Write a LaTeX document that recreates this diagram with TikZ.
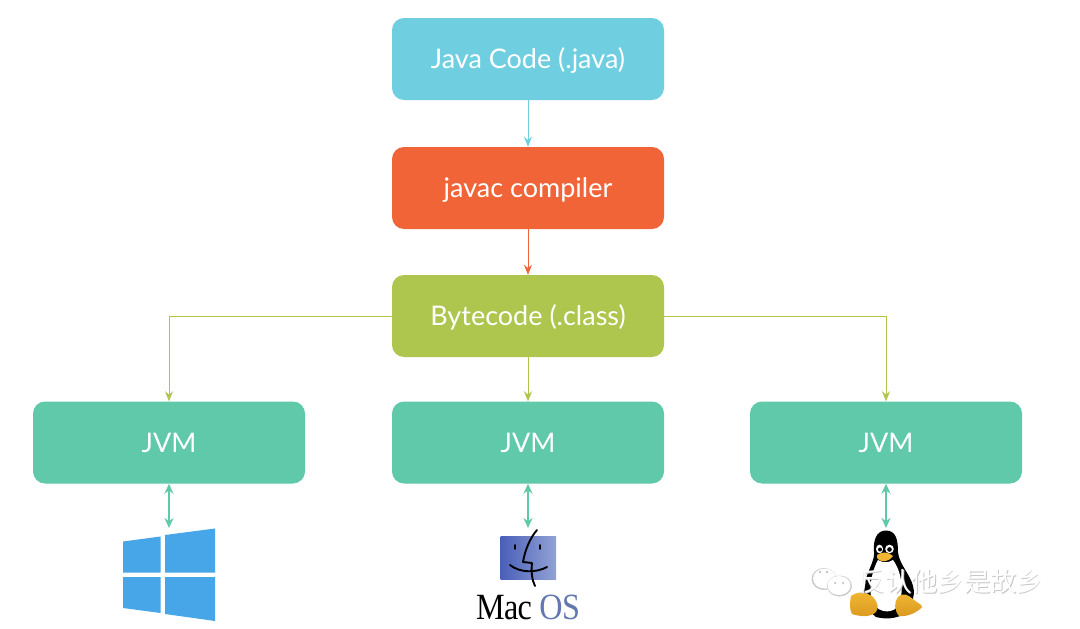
\documentclass[tikz,border=0pt]{standalone}
\usepackage{graphicx}
\usepackage{fontspec}
\setmainfont{Lato}
\newfontfamily\serifmac{Liberation Serif}
\newfontfamily\cjkwm{Noto Sans CJK SC}
\usetikzlibrary{arrows.meta,calc}
\definecolor{cjava}{HTML}{6FCFE0}
\definecolor{cjavac}{HTML}{F06437}
\definecolor{cbyte}{HTML}{AEC64E}
\definecolor{cjvm}{HTML}{5FC9A9}
\definecolor{cwin}{HTML}{46A6E8}
\definecolor{cmacd}{HTML}{4A5FB8}
\definecolor{cmacl}{HTML}{92A2D6}
\definecolor{cos}{HTML}{6478B0}
\definecolor{ctux}{HTML}{F2B632}
\definecolor{ctuxd}{HTML}{D99A20}
\tikzset{
  flowbox/.style={rounded corners=12pt,minimum width=272pt,minimum height=82pt,inner sep=0pt,text=white,text height=19pt,text depth=0pt,font=\fontsize{27}{30}\selectfont},
  flowline/.style={line width=1pt,-{Stealth[length=10pt,width=8pt]}},
  duplex/.style={line width=1.4pt,cjvm,{Stealth[length=10pt,width=9pt]}-{Stealth[length=10pt,width=9pt]}},
  winpane/.style={fill=cwin,draw=none},
  marktext/.style={font=\cjkwm\fontsize{26.3}{30}\selectfont,inner sep=0pt},
  finder/.style={line width=1.9pt,line cap=round,line join=round,black},
}
\begin{document}
\begin{tikzpicture}[x=1pt,y=-1pt]
\useasboundingbox (0,0) rectangle (1080,629);
\fill[white] (0,0) rectangle (1080,629);
% boxes
\node[flowbox,fill=cjava] (java) at (528,59) {Java Code (.java)};
\node[flowbox,fill=cjavac] (javac) at (528,188) {javac compiler};
\node[flowbox,fill=cbyte] (byte) at (528,316) {Bytecode (.class)};
\node[flowbox,fill=cjvm] (jvma) at (169,442.5) {JVM};
\node[flowbox,fill=cjvm] (jvmb) at (528,442.5) {JVM};
\node[flowbox,fill=cjvm] (jvmc) at (886,442.5) {JVM};
% free ends
\coordinate (wintop) at (169,528);
\coordinate (mactop) at (528,528);
\coordinate (tuxtop) at (886,528);
% connectors
\draw[flowline,cjava] (java) -- (javac);
\draw[flowline,cjavac] (javac) -- (byte);
\draw[flowline,cbyte] (byte) -- (jvmb);
\draw[flowline,cbyte] (byte.west) -| (jvma.north);
\draw[flowline,cbyte] (byte.east) -| (jvmc.north);
\draw[duplex] (jvma.south) -- (wintop);
\draw[duplex] (jvmb.south) -- (mactop);
\draw[duplex] (jvmc.south) -- (tuxtop);
% Windows logo
\fill[winpane] (123,541.5) -- (160.5,536.5) -- (160.5,572.5) -- (123,572.5) -- cycle;
\fill[winpane] (123,577) -- (160.5,577) -- (160.5,613) -- (123,608) -- cycle;
\fill[winpane] (165,535) -- (215,528.5) -- (215,572.5) -- (165,572.5) -- cycle;
\fill[winpane] (165,577) -- (215,577) -- (215,621) -- (165,614) -- cycle;
% Mac logo
\shade[left color=cmacd,right color=cmacl] (500.7,536) rectangle (556,579.5);
\draw[finder] (537,530) .. controls (530,538) and (525,550) .. (523,562) -- (532,563) .. controls (531,572) and (532,580) .. (535,586);
\draw[finder] (510,565) .. controls (520,573) and (536,573) .. (547,567);
\draw[finder] (515,545) -- (515,549);
\draw[finder] (540,545) -- (540,549);
\node[inner sep=0pt,anchor=base] (macname) at (528,619.5) {\scalebox{0.87}[1]{\serifmac\fontsize{37}{40}\selectfont\addfontfeature{LetterSpace=-2}Mac \textcolor{cos}{OS}}};
% Tux
\fill[black] (886,530.5) .. controls (876,530.5) and (873,541) .. (874,552)
  .. controls (875,560) and (868,570) .. (865,582) .. controls (863,595) and (866,610) .. (876,617)
  .. controls (884,619) and (892,619) .. (900,616) .. controls (911,610) and (916,596) .. (913,586)
  .. controls (910,574) and (899,564) .. (898,552) .. controls (898,540) and (896,530.5) .. (886,530.5) -- cycle;
\fill[white] (878,560) .. controls (873,568) and (867,590) .. (873,603) .. controls (879,614) and (895,614) .. (899,604) .. controls (904,592) and (902,572) .. (893,560) .. controls (888,563) and (883,563) .. (878,560) -- cycle;
\shade[top color=ctux,bottom color=ctuxd] (851,596) .. controls (858,591) and (866,592) .. (872,596) .. controls (879,603) and (879,610) .. (875,613) .. controls (868,618) and (858,616) .. (852,614) .. controls (849,609) and (850,602) .. (851,596) -- cycle;
\shade[top color=ctux,bottom color=ctuxd] (898,597) .. controls (904,592) and (908,595) .. (913,599) .. controls (917,603) and (922,604) .. (922,607) .. controls (918,612) and (908,617) .. (899,616) .. controls (894,610) and (894,602) .. (898,597) -- cycle;
\fill[white] (879.5,549) ellipse (3.5pt and 4.3pt);
\fill[white] (889.5,549) ellipse (4.3pt and 4.3pt);
\fill[black] (880,549.5) circle (2pt);
\fill[black] (889.5,549.5) circle (2.3pt);
\fill[ctux] (877,555) .. controls (882,551.5) and (888,551.5) .. (893,556) .. controls (890,561) and (882,564) .. (877,558) -- cycle;
% watermark
\fill[gray!40] (824,579) ellipse (12.5pt and 11pt);
\fill[white] (824.6,578.6) ellipse (11.5pt and 10pt);
\fill[gray!40] (839.5,586) ellipse (12.5pt and 10.5pt);
\fill[white] (839,585.5) ellipse (11.5pt and 9.5pt);
\fill[gray!60] (820,572) circle (1.1pt) (827,572) circle (1.1pt) (835,583) circle (1pt) (843,583) circle (1pt);
\node[marktext,text=gray!45,anchor=west] (markshade) at (859.6,582.6) {反认他乡是故乡};
\node[marktext,text=white,anchor=west] (mark) at (859,582) {反认他乡是故乡};
\end{tikzpicture}
\end{document}
